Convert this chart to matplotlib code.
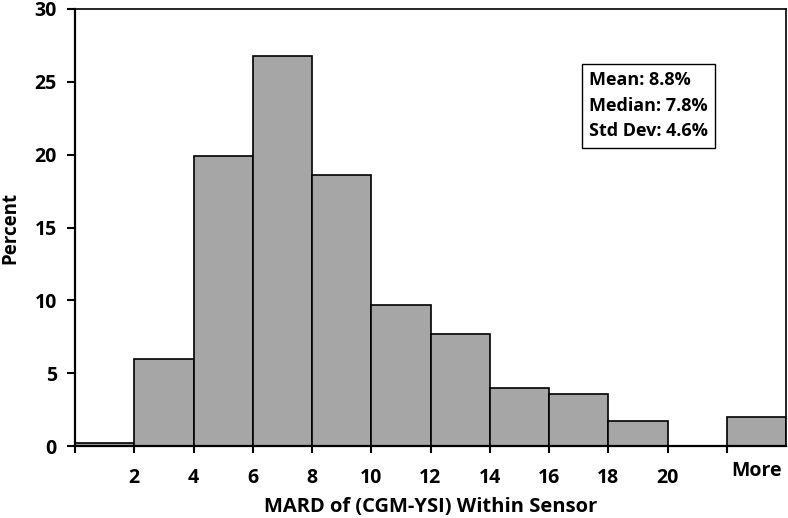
import matplotlib
matplotlib.use('Agg')
import matplotlib.pyplot as plt

# bins de MARD (%), le dernier = "More"
bin_left = [0, 2, 4, 6, 8, 10, 12, 14, 16, 18, 20, 22]
percent = [0.2, 6.0, 19.9, 26.8, 18.6, 9.7, 7.7, 4.0, 3.6, 1.7, 0.0, 2.0]
edge_labels = ['', '2', '4', '6', '8', '10', '12', '14', '16', '18', '20', '']
stats_text = 'Mean: 8.8%\nMedian: 7.8%\nStd Dev: 4.6%'

plt.rcParams['font.family'] = ['Open Sans', 'DejaVu Sans']
plt.rcParams['font.weight'] = 'bold'

fig = plt.figure(figsize=(7.88, 5.18), dpi=100)
ax = fig.add_axes([75/788, 1 - 446/518, 711/788, 437/518])

ax.bar(bin_left, percent, width=2, align='edge', color='#a6a6a6', edgecolor='black', linewidth=1.2)

ax.set_xlim(0, 24)
ax.set_ylim(0, 30)
ax.set_yticks([0, 5, 10, 15, 20, 25, 30])
ax.set_xticks(bin_left)
ax.set_xticklabels(edge_labels)
ax.set_xticks([23], minor=True)
ax.set_xticklabels(['More'], minor=True)
ax.tick_params(axis='x', which='minor', length=0, pad=11, labelsize=14)
ax.tick_params(axis='x', which='major', length=5, width=1.5, pad=11, labelsize=14)
ax.tick_params(axis='y', length=6, width=1.5, pad=7, labelsize=14)
for lab in ax.get_xticklabels(minor=True) + ax.get_xticklabels() + ax.get_yticklabels():
    lab.set_fontweight('bold')

for s in ['left', 'bottom']:
    ax.spines[s].set_linewidth(1.6)
for s in ['top', 'right']:
    ax.spines[s].set_linewidth(1.2)

ax.set_xlabel('MARD of (CGM-YSI) Within Sensor', fontsize=14.5, fontweight='bold', labelpad=6)
ax.set_ylabel('Percent', fontsize=13.5, fontweight='bold', labelpad=10)

ax.text(0.723, 0.858, stats_text, transform=ax.transAxes, fontsize=13, fontweight='bold',
        va='top', ha='left', linespacing=1.55,
        bbox=dict(boxstyle='square,pad=0.4', facecolor='white', edgecolor='black', linewidth=1.0))

fig.savefig('out.png', dpi=100)
